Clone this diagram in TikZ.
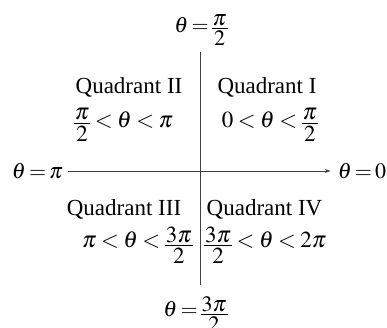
\documentclass[tikz,border=0pt]{standalone}
\usepackage{mathptmx}
\usepackage{fontspec}
\setmainfont{Liberation Serif}
\usetikzlibrary{arrows.meta}
\newcommand{\fr}[2]{\mathord{\lower0.12em\hbox{$\vcenter{\offinterlineskip\halign{\hfil\kern1pt##\kern1pt\hfil\cr$#1$\cr\noalign{\kern2.5pt\hrule height 0.6pt\kern2.5pt}$#2$\cr}}$}}}
\newcommand{\mfnt}{\fontsize{22}{26}\selectfont\thickmuskip=2.5mu\relax}
\newcommand{\rfnt}{\fontsize{23}{27}\selectfont\thickmuskip=3.5mu\relax}
\begin{document}
\begin{tikzpicture}[x=1pt,y=1pt,
  lbl/.style={inner sep=0pt,font=\fontsize{23}{26}\selectfont},
  mlbl/.style={inner sep=0pt,font=\mfnt},
  rlbl/.style={inner sep=0pt,font=\rfnt},
  axis/.style={line width=0.8pt,black!75}]
\useasboundingbox (0,0) rectangle (387,328);
\node[mlbl] (top) at (201,298) {$\theta=\fr{\pi}{2}$};
\node[mlbl] (bot) at (195.5,14) {$\theta=\fr{3\pi}{2}$};
\node[mlbl] (left) at (37.5,157) {$\theta=\pi$};
\node[mlbl] (right) at (362,157) {$\theta=0$};
\node[lbl] (q2) at (129,241) {Quadrant II};
\node[rlbl] (q2r) at (123.5,203) {$\fr{\pi}{2}<\theta<\pi$};
\node[lbl] (q1) at (267,241) {Quadrant I};
\node[rlbl] (q1r) at (270,203) {$0<\theta<\fr{\pi}{2}$};
\node[lbl] (q3) at (124,119) {Quadrant III};
\node[rlbl,anchor=east] (q3r) at (193,83) {$\pi<\theta<\fr{3\pi}{2}$};
\node[lbl] (q4) at (264.5,119) {Quadrant IV};
\node[rlbl,anchor=west] (q4r) at (204,83) {$\fr{3\pi}{2}<\theta<2\pi$};
\coordinate (vtop) at (200,276);
\coordinate (vbot) at (200,43);
\draw[axis] (vtop) -- (vbot);
\draw[axis,-{Stealth[length=6pt,width=4pt]}] ([xshift=5pt]left.east) -- ([xshift=-7pt]right.west);
\end{tikzpicture}
\end{document}
